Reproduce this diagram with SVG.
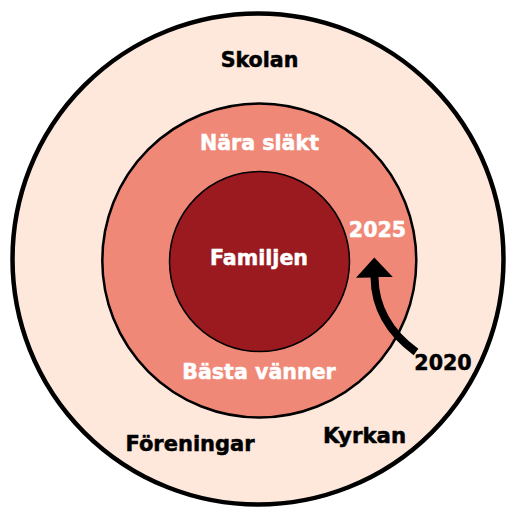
<svg xmlns="http://www.w3.org/2000/svg" width="508" height="509" viewBox="0 0 508 509">
  <style>
    .lbl { font-family: "DejaVu Sans", "Liberation Sans", sans-serif; font-weight: bold; font-size: 20.6px; text-anchor: middle; stroke-width: 0.5px; stroke-linejoin: round; }
    .dark { fill: #000000; stroke: #000000; }
    .light { fill: #ffffff; stroke: #ffffff; }
  </style>
  <defs>
    <marker id="ah" viewBox="0 0 20 37" refX="0.5" refY="18.5" markerWidth="20" markerHeight="37" markerUnits="userSpaceOnUse" orient="auto">
      <path d="M0,0 L20,18.5 L0,37 Z" fill="#000"/>
    </marker>
  </defs>
  <rect width="508" height="509" fill="#ffffff"/>
  <g id="outer">
    <circle cx="258" cy="259" r="245.5" fill="#FDE8DB" stroke="#000" stroke-width="4.5"/>
    <text class="lbl dark" x="259.5" y="67">Skolan</text>
    <text class="lbl dark" x="190" y="451" style="font-size:21px">Föreningar</text>
    <text class="lbl dark" x="364.5" y="443" style="font-size:21.3px">Kyrkan</text>
  </g>
  <g id="middle">
    <circle cx="259.3" cy="260.5" r="157" fill="#F08877" stroke="#000" stroke-width="2.5"/>
    <text class="lbl light" x="259.5" y="150">Nära släkt</text>
    <text class="lbl light" x="259" y="379">Bästa vänner</text>
    <text class="lbl light" x="377.5" y="237">2025</text>
  </g>
  <g id="inner">
    <circle cx="259.5" cy="261.5" r="90" fill="#9B1A20" stroke="#000" stroke-width="1.5"/>
    <text class="lbl light" x="259" y="265">Familjen</text>
  </g>
  <g id="connectors">
    <path d="M416,352 Q375,322 374.5,277" fill="none" stroke="#000" stroke-width="8" marker-end="url(#ah)"/>
    <text class="lbl dark" x="443" y="370">2020</text>
  </g>
</svg>
